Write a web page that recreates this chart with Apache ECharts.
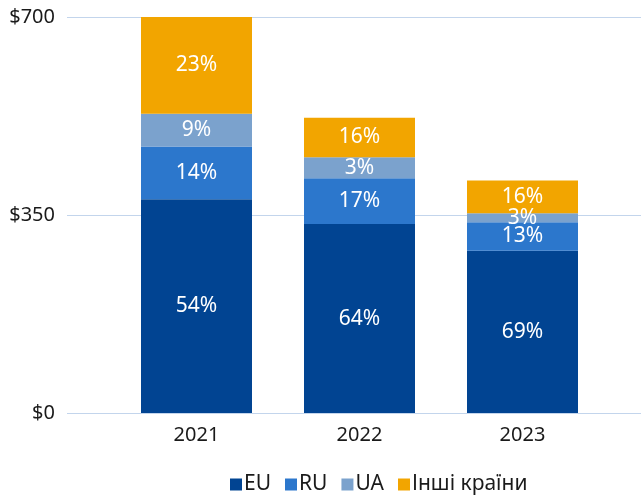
<!DOCTYPE html>
<html>
<head>
<meta charset="utf-8">
<script src="https://cdn.jsdelivr.net/npm/echarts@6/dist/echarts.min.js"></script>
<style>
  html, body { margin: 0; padding: 0; background: #fff; }
  #chart { width: 641px; height: 498px; }
</style>
</head>
<body>
<div id="chart"></div>
<script>
// data ($ values, labels are shares of the year total)
const years = ['2021', '2022', '2023'];
const names = ['EU', 'RU', 'UA', 'Інші країни'];
const eu = [378, 334, 287];
const ru = [93, 81, 50];
const ua = [58, 37, 16];
const other = [171, 70, 58];
const euPct = ['54%', '64%', '69%'];
const ruPct = ['14%', '17%', '13%'];
const uaPct = ['9%', '3%', '3%'];
const otherPct = ['23%', '16%', '16%'];
const yTicks = [0, 350, 700];

const colors = ['#014492', '#2c77cc', '#7ba2cd', '#f2a500'];
const font = '"Noto Sans", sans-serif';

function bar(name, values, pct, color) {
  return {
    name: name,
    type: 'bar',
    stack: 'total',
    xAxisIndex: 1,
    yAxisIndex: 1,
    barWidth: 111,
    data: values,
    itemStyle: { color: color },
    label: {
      show: true,
      position: 'inside',
      color: '#fff',
      fontSize: 21,
      fontFamily: font,
      formatter: p => pct[p.dataIndex]
    }
  };
}

const chart = echarts.init(document.getElementById('chart'));
chart.setOption({
  animation: false,
  color: colors,
  grid: [
    { left: 67, right: 0, top: 17, bottom: 85 },   // gridlines + y labels
    { left: 115, right: 37, top: 17, bottom: 85 }  // bars
  ],
  legend: {
    data: names,
    bottom: -2,
    left: 225,
    icon: 'rect',
    itemWidth: 12,
    itemHeight: 12,
    itemGap: 14,
    textStyle: { fontSize: 21, fontFamily: font, color: '#1a1a1a', padding: [0, 0, 0, -3] }
  },
  xAxis: [
    { gridIndex: 0, type: 'category', data: years, show: false },
    {
      gridIndex: 1,
      type: 'category',
      data: years,
      axisLine: { show: false },
      axisTick: { show: false },
      axisLabel: { fontSize: 20, fontFamily: font, color: '#1a1a1a', margin: 12 }
    }
  ],
  yAxis: [
    {
      gridIndex: 0,
      type: 'value',
      min: yTicks[0],
      max: yTicks[2],
      interval: yTicks[1],
      axisLine: { show: false },
      axisTick: { show: false },
      splitLine: { lineStyle: { color: '#c3d5ec', width: 1 } },
      axisLabel: {
        fontSize: 20, fontFamily: font, color: '#1a1a1a', margin: 12,
        formatter: v => '$' + v
      }
    },
    { gridIndex: 1, type: 'value', min: yTicks[0], max: yTicks[2], interval: yTicks[1], show: false }
  ],
  series: [
    bar(names[0], eu, euPct, colors[0]),
    bar(names[1], ru, ruPct, colors[1]),
    bar(names[2], ua, uaPct, colors[2]),
    bar(names[3], other, otherPct, colors[3])
  ]
});
</script>
</body>
</html>
